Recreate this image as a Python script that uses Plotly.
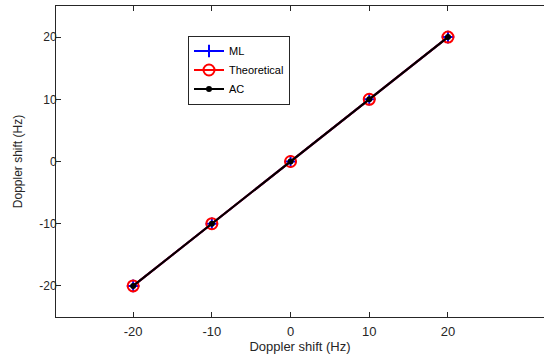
import plotly.graph_objects as go

true_shift = [-20, -10, 0, 10, 20]
ml_est = [-20, -10, 0, 10, 20]
theoretical = [-20, -10, 0, 10, 20]
ac_est = [-20, -10, 0, 10, 20]
x_ticks = [-20, -10, 0, 10, 20]
y_ticks = [-20, -10, 0, 10, 20]
x_ticklabels = ["-20", "-10", "0", "10", "20"]
y_ticklabels = ["-20", "-10", "0", "10", "20"]

fig = go.Figure()
fig.add_trace(go.Scatter(x=true_shift, y=ml_est, name="ML", mode="lines+markers",
                         line=dict(color="#0000ff", width=2),
                         marker=dict(symbol="cross-thin", size=9, line=dict(color="#0000ff", width=2))))
fig.add_trace(go.Scatter(x=true_shift, y=theoretical, name="Theoretical", mode="lines+markers",
                         line=dict(color="#ff0000", width=2),
                         marker=dict(symbol="circle-open", size=11, color="#ff0000", line=dict(width=2))))
fig.add_trace(go.Scatter(x=true_shift, y=ac_est, name="AC", mode="lines+markers",
                         line=dict(color="#000000", width=2),
                         marker=dict(symbol="circle", size=6, color="#000000")))

fam = "Liberation Sans, Arial, sans-serif"
xfont = dict(family=fam, size=13, color="#262626")
yfont = dict(family=fam, size=12, color="#262626")
fig.update_layout(
    width=544, height=358,
    margin=dict(l=56, r=0, t=6, b=41, autoexpand=False),
    paper_bgcolor="white", plot_bgcolor="white",
    font=yfont,
    xaxis=dict(range=[-29.8, 32.2], tickvals=x_ticks, ticktext=x_ticklabels,
               showgrid=False, zeroline=False, automargin=False,
               showline=True, linecolor="#262626", linewidth=1, mirror="ticks",
               ticks="inside", ticklen=5, tickcolor="#262626", tickfont=xfont,
               ticklabelstandoff=2,
               title=dict(text="Doppler shift (Hz)", standoff=3, font=xfont)),
    yaxis=dict(range=[-25, 25], tickvals=y_ticks, ticktext=y_ticklabels,
               showgrid=False, zeroline=False, automargin=False,
               showline=True, linecolor="#262626", linewidth=1,
               ticks="inside", ticklen=5, tickcolor="#262626", tickfont=yfont,
               ticklabelstandoff=-4,
               title=dict(text="Doppler shift (Hz)", standoff=14, font=yfont)),
    showlegend=True,
    legend=dict(
        x=(188 - 56) / 488, y=1 - (70 - 6) / 311, xanchor="left", yanchor="middle",
        bgcolor="white", bordercolor="#262626", borderwidth=1,
        font=dict(family=fam, size=11, color="#000000"),
        tracegroupgap=0, itemwidth=30),
)

fig.write_html("out.html", config={"displayModeBar": False},
               post_script="document.body.style.margin='0';document.body.style.overflow='hidden';")
